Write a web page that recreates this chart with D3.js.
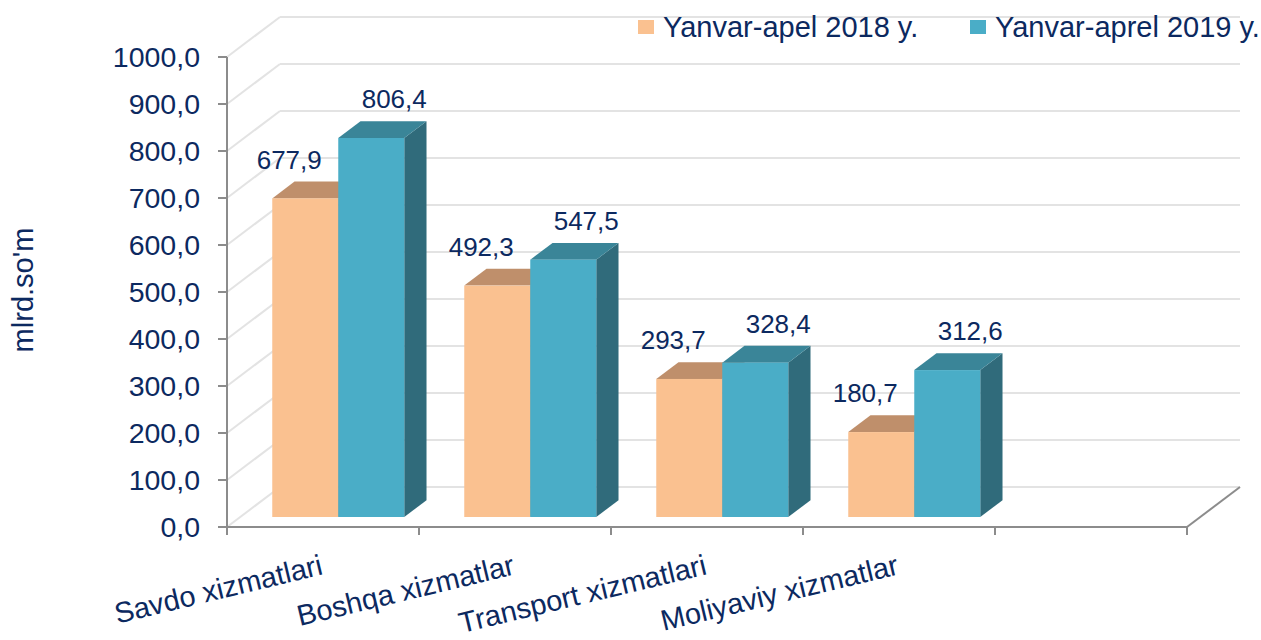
<!DOCTYPE html>
<html>
<head>
<meta charset="utf-8">
<script src="https://cdn.jsdelivr.net/npm/d3@7/dist/d3.min.js"></script>
<style>
  html, body { margin: 0; padding: 0; background: #ffffff; }
  svg { display: block; }
  text { font-family: "Liberation Sans", Arial, sans-serif; }
</style>
</head>
<body>
<svg id="chart" width="1261" height="640"></svg>
<script>
// ---- data ----
const categories = ["Savdo xizmatlari", "Boshqa xizmatlar", "Transport xizmatlari", "Moliyaviy xizmatlar"];
const seriesNames = ["Yanvar-apel 2018 y.", "Yanvar-aprel 2019 y."];
const values2018 = [677.9, 492.3, 293.7, 180.7];
const values2019 = [806.4, 547.5, 328.4, 312.6];
const yTicks = [0, 100, 200, 300, 400, 500, 600, 700, 800, 900, 1000];
const yTitle = "mlrd.so'm";

// ---- layout ----
const W = 1261, H = 640;
const textColor = "#0c2960";
const gridColor = "#e3e3e3";
const axisColor = "#8c8c8c";
const DX = 53, DY = -40;          // full depth projection offset
const zFront = 0.25, zBack = 0.67; // bar depth range
const slots = categories.map((c, i) => "c" + i).concat(["empty"]); // 5 slots, last empty

const svg = d3.select("#chart");

const x = d3.scaleBand().domain(slots).range([227, 1187]).padding(0);
const y = d3.scaleLinear().domain([0, 1000]).range([527, 57]);
const inner = d3.scaleBand().domain([0, 1])
  .range([x.bandwidth() * 0.1667, x.bandwidth() * 0.8542]).padding(0);

const proj = (xf, v, z) => [xf + z * DX, y(v) + z * DY];
const fmt = v => d3.format(".1f")(v).replace(".", ",");

// ---- walls / grid ----
const gGrid = svg.append("g");
const x0 = x.range()[0], x1 = x.range()[1];
yTicks.forEach(v => {
  const a = proj(x0, v, 1), b = proj(x1, v, 1);
  gGrid.append("line").attr("x1", a[0]).attr("y1", a[1]).attr("x2", b[0]).attr("y2", b[1])
    .attr("stroke", gridColor).attr("stroke-width", 2);
  const c = proj(x0, v, 0);
  gGrid.append("line").attr("x1", c[0]).attr("y1", c[1]).attr("x2", a[0]).attr("y2", a[1])
    .attr("stroke", gridColor).attr("stroke-width", 2);
});

// floor right edge
{
  const a = proj(x1, 0, 0), b = proj(x1, 0, 1);
  svg.append("line").attr("x1", a[0]).attr("y1", a[1]).attr("x2", b[0]).attr("y2", b[1])
    .attr("stroke", axisColor).attr("stroke-width", 2);
}

// ---- axes ----
const gAxis = svg.append("g");
gAxis.append("line").attr("x1", x0).attr("x2", x0).attr("y1", y(1000)).attr("y2", y(0))
  .attr("stroke", axisColor).attr("stroke-width", 2);
gAxis.append("line").attr("x1", x0).attr("x2", x1).attr("y1", y(0)).attr("y2", y(0))
  .attr("stroke", axisColor).attr("stroke-width", 2);
yTicks.forEach(v => {
  gAxis.append("line").attr("x1", x0 - 9).attr("x2", x0).attr("y1", y(v)).attr("y2", y(v))
    .attr("stroke", axisColor).attr("stroke-width", 2);
  gAxis.append("text").attr("x", 200).attr("y", y(v)).attr("dy", "0.36em")
    .attr("text-anchor", "end").attr("font-size", 28.5).attr("fill", textColor).text(fmt(v));
});
slots.forEach(s => {
  gAxis.append("line").attr("x1", x(s)).attr("x2", x(s)).attr("y1", y(0)).attr("y2", y(0) + 8)
    .attr("stroke", axisColor).attr("stroke-width", 2);
});
gAxis.append("line").attr("x1", x1).attr("x2", x1).attr("y1", y(0)).attr("y2", y(0) + 8)
  .attr("stroke", axisColor).attr("stroke-width", 2);

categories.forEach((c, i) => {
  const cx = x(slots[i]) + x.bandwidth() / 2 + 1;
  gAxis.append("text")
    .attr("transform", `translate(${cx},574) rotate(-13.5)`)
    .attr("text-anchor", "end").attr("font-size", 29).attr("fill", textColor).text(c);
});

// y title
svg.append("text").attr("transform", "translate(33,290) rotate(-90)")
  .attr("text-anchor", "middle").attr("font-size", 29).attr("fill", textColor).text(yTitle);

// ---- bars ----
const seriesVals = [values2018, values2019];
const colors = [
  { front: "#fac190", top: "#bf8f6b", side: "#b0805d" },
  { front: "#4aadc7", top: "#3a8598", side: "#306b7b" }
];
const labelDx = [-16, 23];
const gBars = svg.append("g");
const poly = pts => pts.map(p => p.join(",")).join(" ");

categories.forEach((c, i) => {
  [0, 1].forEach(s => {
    const v = seriesVals[s][i];
    const xl = x(slots[i]) + inner(s);
    const xr = xl + inner.bandwidth();
    const col = colors[s];
    // side face
    gBars.append("polygon").attr("points", poly([
      proj(xr, v, zFront), proj(xr, v, zBack), proj(xr, 0, zBack), proj(xr, 0, zFront)
    ])).attr("fill", col.side);
    // top face
    gBars.append("polygon").attr("points", poly([
      proj(xl, v, zFront), proj(xr, v, zFront), proj(xr, v, zBack), proj(xl, v, zBack)
    ])).attr("fill", col.top);
    // front face
    const fl = proj(xl, v, zFront), fr = proj(xr, 0, zFront);
    gBars.append("rect").attr("x", fl[0]).attr("y", fl[1])
      .attr("width", fr[0] - fl[0]).attr("height", fr[1] - fl[1]).attr("fill", col.front);
  });
});

// data labels
categories.forEach((c, i) => {
  [0, 1].forEach(s => {
    const v = seriesVals[s][i];
    const xl = x(slots[i]) + inner(s);
    const cxFront = proj(xl + inner.bandwidth() / 2, v, zFront)[0];
    const topBack = proj(xl, v, zBack)[1];
    svg.append("text").attr("x", cxFront + labelDx[s]).attr("y", topBack - 13)
      .attr("text-anchor", "middle").attr("font-size", 26).attr("fill", textColor).text(fmt(v));
  });
});

// ---- legend ----
const legendX = [638, 970];
seriesNames.forEach((n, s) => {
  svg.append("rect").attr("x", legendX[s]).attr("y", 20).attr("width", 16).attr("height", 14)
    .attr("fill", colors[s].front);
  svg.append("text").attr("x", legendX[s] + 25).attr("y", 37).attr("font-size", 29)
    .attr("fill", textColor).text(n);
});
</script>
</body>
</html>
